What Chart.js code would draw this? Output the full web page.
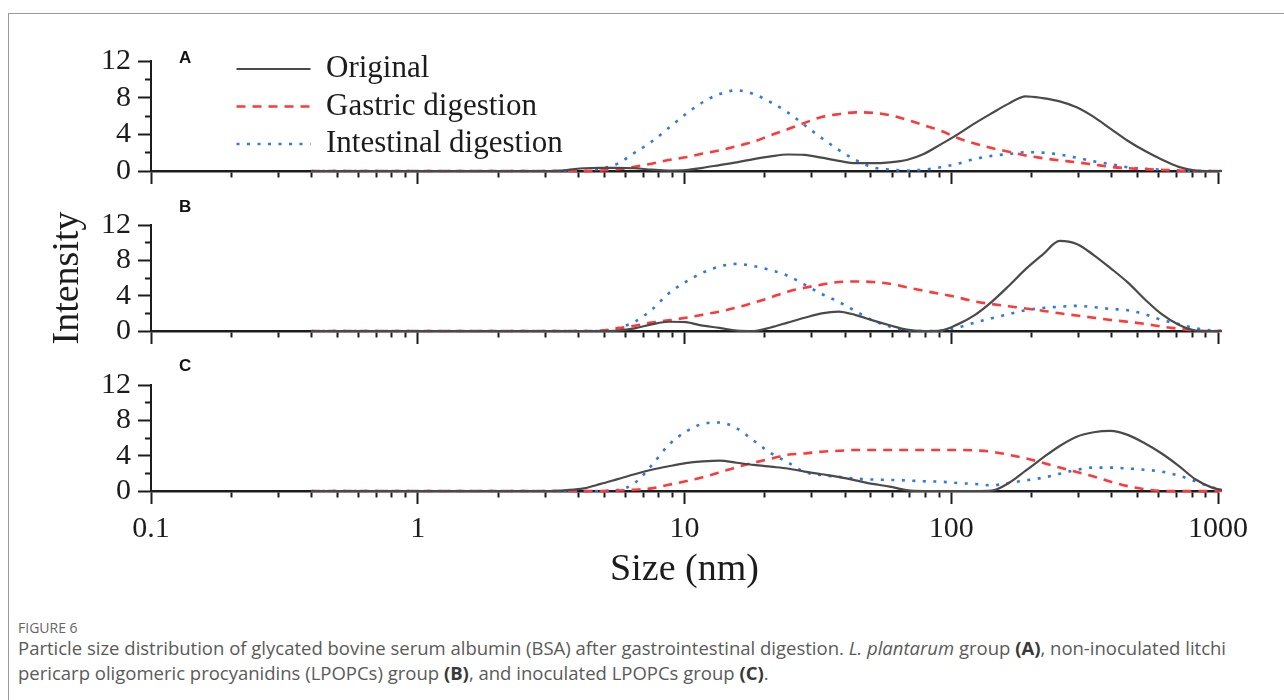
<!DOCTYPE html>
<html>
<head>
<meta charset="utf-8">
<title>Particle size distribution</title>
<script src="https://cdn.jsdelivr.net/npm/chart.js@4.4.0/dist/chart.umd.min.js"></script>
<style>
    html, body { margin: 0; padding: 0; background: #fff; }
    body { width: 1284px; height: 700px; position: relative; overflow: hidden; }
    #frame { position: absolute; left: 8px; top: 13px; width: 1300px; height: 720px; border: 1px solid #999; box-sizing: border-box; }
    .panel { position: absolute; left: 0; width: 1284px; }
    .tag { position: absolute; left: 179px; font: bold 17px 'Liberation Sans', Arial, sans-serif; color: #111; line-height: 17px; }
    #figlabel { position: absolute; left: 18px; top: 619px; font: 14px 'Open Sans', 'Noto Sans', sans-serif; color: #666; line-height: 18px; }
    #caption { position: absolute; left: 18px; top: 635px; width: 1262px; margin: 0; font: 18.5px 'Open Sans', 'Noto Sans', sans-serif; color: #5a5a5a; line-height: 25px; white-space: nowrap; }
    #caption b { color: #383838; }
</style>
</head>
<body>
<div id="frame"></div>
<div class="panel" style="top:0;height:200px"><canvas id="panelA"></canvas></div>
<div class="panel" style="top:200px;height:160px"><canvas id="panelB"></canvas></div>
<div class="panel" style="top:360px;height:240px"><canvas id="panelC"></canvas></div>
<div class="tag" style="top:49px">A</div>
<div class="tag" style="top:198px">B</div>
<div class="tag" style="top:357px">C</div>
<div id="figlabel">FIGURE 6</div>
<p id="caption">Particle size distribution of glycated bovine serum albumin (BSA) after gastrointestinal digestion. <i>L. plantarum</i> group <b>(A)</b>, non-inoculated litchi<br>pericarp oligomeric procyanidins (LPOPCs) group <b>(B)</b>, and inoculated LPOPCs group <b>(C)</b>.</p>

<script>
// size classes (nm) of the DLS intensity distribution
const sizes = [
    0.4, 0.4632, 0.5365, 0.6213, 0.7195, 0.8332, 0.9649, 1.117, 1.294, 1.499,
    1.736, 2.010, 2.328, 2.696, 3.122, 3.615, 4.187, 4.849, 5.615, 6.503,
    7.531, 8.721, 10.10, 11.70, 13.54, 15.69, 18.17, 21.04, 24.36, 28.21,
    32.67, 37.84, 43.82, 50.75, 58.77, 68.06, 78.82, 91.28, 105.7, 122.4,
    141.8, 164.2, 190.1, 220.2, 255.0, 295.3, 342.0, 396.1, 458.7, 531.2,
    615.1, 712.4, 825.0, 955.4, 1106
];

const seriesNames = ['Original', 'Gastric digestion', 'Intestinal digestion'];

// (A) L. plantarum group
const originalA = [
    0, 0, 0, 0, 0, 0, 0, 0, 0, 0,
    0, 0, 0, 0, 0, 0.1, 0.3, 0.35, 0.35, 0.3,
    0.15, 0.05, 0.1, 0.35, 0.65, 0.95, 1.3, 1.6, 1.8, 1.75,
    1.45, 1.1, 0.85, 0.85, 0.95, 1.2, 1.85, 2.9, 4.0, 5.2,
    6.3, 7.35, 8.15, 7.95, 7.6, 6.95, 5.9, 4.6, 3.3, 2.2,
    1.25, 0.45, 0.05, 0, 0
];
const gastricA = [
    0, 0, 0, 0, 0, 0, 0, 0, 0, 0,
    0, 0, 0, 0, 0, 0, 0, 0.05, 0.2, 0.45,
    0.8, 1.2, 1.5, 1.9, 2.25, 2.7, 3.2, 3.9, 4.55, 5.25,
    5.9, 6.2, 6.4, 6.35, 6.1, 5.6, 5.0, 4.4, 3.6, 3.0,
    2.5, 2.1, 1.7, 1.4, 1.15, 0.95, 0.7, 0.45, 0.3, 0.2,
    0.12, 0.05, 0, 0, 0
];
const intestinalA = [
    0, 0, 0, 0, 0, 0, 0, 0, 0, 0,
    0, 0, 0, 0, 0, 0, 0, 0.25, 0.8, 2.0,
    3.2, 4.7, 6.2, 7.5, 8.4, 8.8, 8.4, 7.5, 6.4, 5.0,
    3.6, 2.3, 1.2, 0.4, 0.15, 0.05, 0.15, 0.4, 0.8, 1.3,
    1.65, 1.85, 2.05, 2.0, 1.8, 1.45, 1.05, 0.75, 0.4, 0.25,
    0.15, 0.05, 0, 0, 0
];

// (B) non-inoculated LPOPCs group
const originalB = [
    0, 0, 0, 0, 0, 0, 0, 0, 0, 0,
    0, 0, 0, 0, 0, 0, 0, 0, 0.05, 0.3,
    0.75, 1.05, 1.0, 0.6, 0.35, 0.05, 0, 0.4, 0.95, 1.5,
    2.0, 2.2, 1.8, 1.2, 0.65, 0.15, 0, 0.05, 0.75, 1.8,
    3.3, 5.1, 7.0, 8.65, 10.2, 9.85, 8.6, 7.1, 5.5, 3.6,
    1.9, 0.7, 0.05, 0, 0
];
const gastricB = [
    0, 0, 0, 0, 0, 0, 0, 0, 0, 0,
    0, 0, 0, 0, 0, 0, 0, 0.05, 0.3, 0.6,
    0.95, 1.2, 1.5, 1.85, 2.2, 2.65, 3.2, 3.8, 4.45, 4.9,
    5.25, 5.55, 5.6, 5.55, 5.35, 4.95, 4.55, 4.2, 3.8, 3.35,
    3.05, 2.8, 2.55, 2.3, 2.0, 1.75, 1.5, 1.25, 1.05, 0.8,
    0.5, 0.25, 0.05, 0, 0
];
const intestinalB = [
    0, 0, 0, 0, 0, 0, 0, 0, 0, 0,
    0, 0, 0, 0, 0, 0, 0, 0, 0.35, 1.05,
    2.4, 4.25, 5.55, 6.6, 7.3, 7.6, 7.35, 6.9, 6.25, 5.25,
    4.2, 3.3, 2.25, 1.2, 0.5, 0.1, 0, 0.05, 0.4, 0.95,
    1.45, 1.9, 2.35, 2.6, 2.75, 2.85, 2.7, 2.5, 2.35, 1.9,
    1.25, 0.8, 0.3, 0.05, 0
];

// (C) inoculated LPOPCs group
const originalC = [
    0, 0, 0, 0, 0, 0, 0, 0, 0, 0,
    0, 0, 0, 0, 0, 0.1, 0.3, 0.8, 1.35, 1.9,
    2.4, 2.8, 3.15, 3.35, 3.45, 3.2, 2.95, 2.75, 2.55, 2.2,
    1.9, 1.6, 1.2, 0.8, 0.5, 0.1, 0, 0, 0, 0,
    0.05, 0.9, 2.3, 3.75, 5.1, 6.15, 6.65, 6.8, 6.35, 5.4,
    4.25, 2.85, 1.3, 0.35, 0
];
const gastricC = [
    0, 0, 0, 0, 0, 0, 0, 0, 0, 0,
    0, 0, 0, 0, 0, 0, 0, 0, 0.05, 0.15,
    0.3, 0.7, 1.1, 1.55, 2.1, 2.7, 3.2, 3.65, 4.1, 4.25,
    4.45, 4.55, 4.65, 4.65, 4.65, 4.65, 4.65, 4.65, 4.65, 4.6,
    4.45, 4.1, 3.7, 3.2, 2.65, 2.15, 1.65, 1.05, 0.55, 0.2,
    0.02, 0, 0, 0, 0
];
const intestinalC = [
    0, 0, 0, 0, 0, 0, 0, 0, 0, 0,
    0, 0, 0, 0, 0, 0, 0, 0, 0.1, 0.9,
    2.9, 5.2, 6.7, 7.6, 7.75, 7.1, 5.7, 4.3, 3.25, 2.15,
    1.8, 1.6, 1.4, 1.3, 1.25, 1.2, 1.1, 1.05, 0.9, 0.8,
    0.65, 0.9, 1.2, 1.5, 1.95, 2.4, 2.65, 2.65, 2.55, 2.4,
    2.2, 1.75, 1.1, 0.4, 0
];

// axis ticks
const xDecades = [0.1, 1, 10, 100, 1000];
const xSubSteps = [2, 3, 4, 5, 6, 7, 8, 9];
const yTickValues = [0, 2, 4, 6, 8, 10, 12];
const yLabelled = [0, 4, 8, 12];

const serif = "'Liberation Serif', 'Times New Roman', Times, serif";
const ink = '#1c1c1c';

const lineStyles = [
    { borderColor: '#4a4a4a', borderWidth: 2.2, borderDash: [] },
    { borderColor: '#ff3838', borderWidth: 2.6, borderDash: [9, 7] },
    { borderColor: '#2f78e6', borderWidth: 2.6, borderDash: [3, 7.5] }
];

// decades get the long tick marks, 2..9 multiples the short ones
const xTickValues = [];
xDecades.forEach((d, i) => {
    xTickValues.push(d);
    if (i < xDecades.length - 1) xSubSteps.forEach(m => xTickValues.push(d * m));
});

// moves the legend box into the plot area of the top panel
const legendInPlot = {
    id: 'legendInPlot',
    afterLayout(chart, args, opts) {
        const lg = chart.legend;
        if (!lg || opts.dx === undefined) return;
        lg.left = chart.chartArea.left + opts.dx;
        lg.top = chart.chartArea.top + opts.dy;
        lg.right = lg.left + 420;
        lg.bottom = lg.top + 300;
    }
};

// legend samples keep the dash pattern and width of their dataset
function lineLegendLabels(chart) {
    const items = Chart.defaults.plugins.legend.labels.generateLabels(chart);
    items.forEach(item => {
        const ds = chart.data.datasets[item.datasetIndex];
        item.lineDash = ds.borderDash;
        item.lineWidth = ds.borderWidth;
        item.strokeStyle = ds.borderColor;
    });
    return items;
}

function makePanel(id, values, cfg) {
    const datasets = values.map((vals, k) => Object.assign({
        label: seriesNames[k],
        data: sizes.map((s, i) => ({ x: s, y: vals[i] })),
        pointRadius: 0,
        pointHoverRadius: 0,
        fill: false,
        clip: 4,
        cubicInterpolationMode: 'monotone',
        borderCapStyle: 'butt'
    }, lineStyles[k]));

    return new Chart(document.getElementById(id), {
        type: 'line',
        data: { datasets },
        plugins: [legendInPlot],
        options: {
            responsive: true,
            maintainAspectRatio: false,
            animation: false,
            events: [],
            layout: { padding: { left: 0, right: 66, top: cfg.padTop, bottom: 0 } },
            plugins: {
                tooltip: { enabled: false },
                legend: cfg.legend ? {
                    display: true,
                    position: 'chartArea',
                    align: 'start',
                    labels: {
                        usePointStyle: true,
                        pointStyle: 'line',
                        pointStyleWidth: 74,
                        padding: 6.5,
                        color: ink,
                        font: { family: serif, size: 31 },
                        generateLabels: lineLegendLabels
                    }
                } : { display: false },
                legendInPlot: cfg.legend ? { dx: 79, dy: -14 } : {}
            },
            scales: {
                x: {
                    type: 'logarithmic',
                    min: 0.1,
                    max: 1000,
                    afterBuildTicks: s => { s.ticks = xTickValues.map(v => ({ value: v, major: xDecades.includes(v) })); },
                    afterFit: s => { s.height = cfg.xHeight; },
                    border: { display: true, color: ink, width: 2.5 },
                    grid: {
                        drawOnChartArea: false,
                        drawTicks: true,
                        tickLength: 13,
                        tickWidth: 2,
                        tickColor: ink,
                        tickBorderDash: c => (c.tick && c.tick.major) ? [] : [5, 100]
                    },
                    ticks: {
                        display: !!cfg.xLabels,
                        autoSkip: false,
                        maxRotation: 0,
                        padding: 7,
                        color: ink,
                        font: { family: serif, size: 30 },
                        callback: v => xDecades.includes(v) ? String(v) : ''
                    },
                    title: {
                        display: !!cfg.xLabels,
                        text: 'Size (nm)',
                        color: ink,
                        font: { family: serif, size: 38 },
                        padding: { top: 0, bottom: 7 }
                    }
                },
                y: {
                    min: 0,
                    max: 12,
                    afterBuildTicks: s => { s.ticks = yTickValues.map(v => ({ value: v })); },
                    afterFit: s => { s.width = 151; },
                    border: { display: true, color: ink, width: 2 },
                    grid: {
                        drawOnChartArea: false,
                        drawTicks: true,
                        tickLength: 13,
                        tickWidth: 2,
                        tickColor: ink,
                        tickBorderDash: c => (c.tick && !yLabelled.includes(c.tick.value)) ? [0, 7, 6, 100] : []
                    },
                    ticks: {
                        autoSkip: false,
                        padding: 7,
                        color: ink,
                        font: { family: serif, size: 30 },
                        callback: v => yLabelled.includes(v) ? String(v) : ''
                    },
                    title: {
                        display: !!cfg.yTitle,
                        text: 'Intensity',
                        color: ink,
                        font: { family: serif, size: 38 },
                        padding: { top: 45, bottom: 0 }
                    }
                }
            }
        }
    });
}

makePanel('panelA', [originalA, gastricA, intestinalA], { padTop: 61, xHeight: 29, legend: true });
makePanel('panelB', [originalB, gastricB, intestinalB], { padTop: 21, xHeight: 29, yTitle: true });
makePanel('panelC', [originalC, gastricC, intestinalC], { padTop: 21, xHeight: 109, xLabels: true });
</script>
</body>
</html>
